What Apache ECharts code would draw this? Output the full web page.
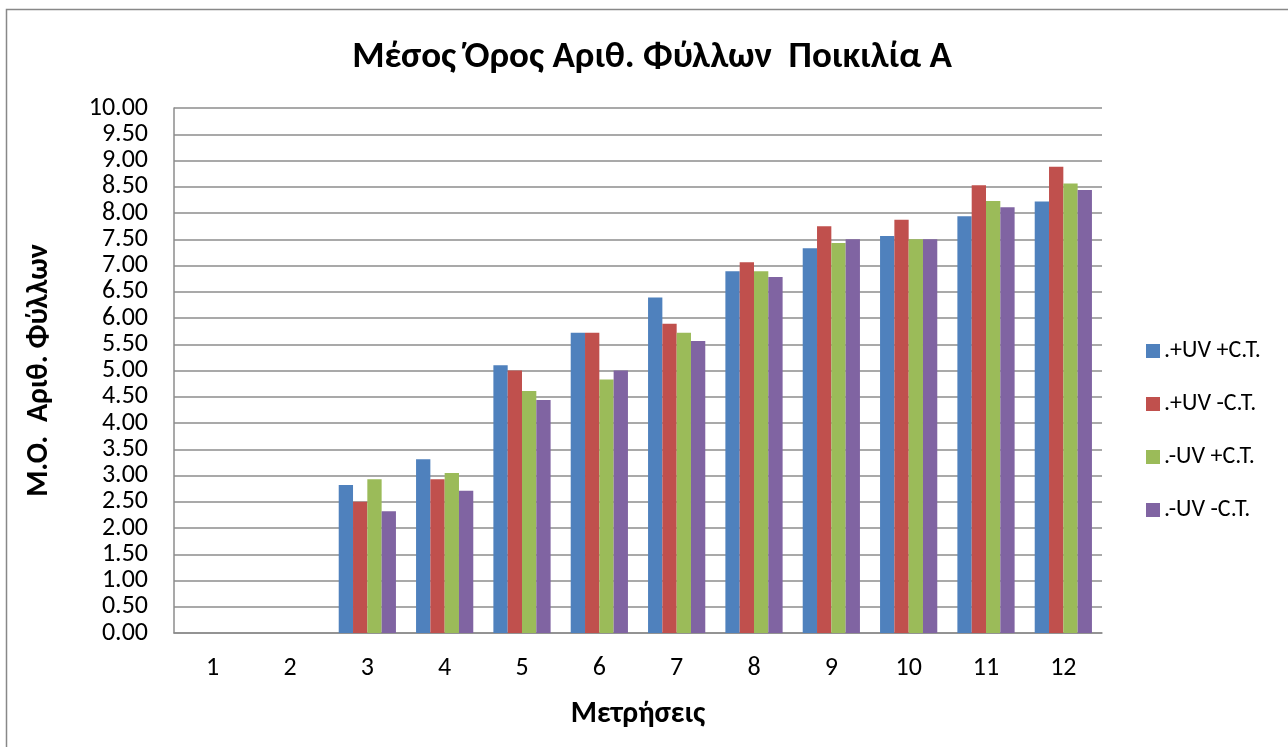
<!DOCTYPE html>
<html>
<head>
<meta charset="utf-8">
<script src="https://cdn.jsdelivr.net/npm/echarts@6/dist/echarts.min.js"></script>
<style>
  html, body { margin: 0; padding: 0; background: #fff; }
  #chart { width: 1288px; height: 747px; }
</style>
</head>
<body>
<div id="chart"></div>
<script>
// Measurement rounds (x axis)
const categories = ['1', '2', '3', '4', '5', '6', '7', '8', '9', '10', '11', '12'];

// Mean leaf count per treatment
const uvPlusCtPlus  = [0, 0, 2.82, 3.31, 5.10, 5.72, 6.39, 6.89, 7.33, 7.56, 7.94, 8.22];
const uvPlusCtMinus = [0, 0, 2.50, 2.93, 5.00, 5.72, 5.89, 7.06, 7.75, 7.87, 8.53, 8.88];
const uvMinusCtPlus = [0, 0, 2.93, 3.05, 4.61, 4.83, 5.72, 6.89, 7.43, 7.50, 8.23, 8.56];
const uvMinusCtMinus = [0, 0, 2.32, 2.71, 4.44, 5.00, 5.56, 6.78, 7.50, 7.50, 8.11, 8.44];

const seriesNames = ['.+UV +C.T.', '.+UV -C.T.', '.-UV +C.T.', '.-UV -C.T.'];
const seriesColors = ['#4f81bd', '#c0504d', '#9bbb59', '#8064a2'];
const seriesValues = [uvPlusCtPlus, uvPlusCtMinus, uvMinusCtPlus, uvMinusCtMinus];

const FONT = 'Carlito, "Open Sans", "Noto Sans", sans-serif';

const chart = echarts.init(document.getElementById('chart'), null, { renderer: 'canvas' });

chart.setOption({
  backgroundColor: '#ffffff',
  animation: false,
  graphic: [{
    type: 'rect',
    shape: { x: 6.5, y: 9.5, width: 1300, height: 760 },
    style: { fill: 'none', stroke: '#888888', lineWidth: 1.5 },
    silent: true,
    z: -1
  }],
  title: {
    text: 'Μέσος Όρος Αριθ. Φύλλων  Ποικιλία Α',
    left: 647,
    top: 34,
    textAlign: 'center',
    textStyle: { fontFamily: FONT, fontSize: 37, fontWeight: 'bold', color: '#000' }
  },
  legend: {
    orient: 'vertical',
    left: 1141,
    top: 334,
    itemWidth: 14,
    itemHeight: 14,
    itemGap: 29,
    icon: 'rect',
    textStyle: { fontFamily: FONT, fontSize: 24, color: '#000', padding: [0, 0, 0, -1] },
    data: seriesNames
  },
  grid: {
    left: 174,
    right: 186,
    top: 108,
    bottom: 114,
    containLabel: false
  },
  xAxis: {
    type: 'category',
    data: categories,
    name: 'Μετρήσεις',
    nameLocation: 'middle',
    nameGap: 66,
    nameTextStyle: { fontFamily: FONT, fontSize: 30, fontWeight: 'bold', color: '#000' },
    axisLine: { lineStyle: { color: '#8c8c8c', width: 1.5 } },
    axisTick: { show: false },
    axisLabel: { fontFamily: FONT, fontSize: 26, color: '#000', margin: 22 },
    splitLine: { show: false }
  },
  yAxis: {
    type: 'value',
    min: 0,
    max: 10,
    interval: 0.5,
    name: 'Μ.Ο.  Αριθ. Φύλλων',
    nameLocation: 'middle',
    nameRotate: 90,
    nameGap: 120,
    nameTextStyle: { fontFamily: FONT, fontSize: 30, fontWeight: 'bold', color: '#000' },
    axisLine: { show: true, lineStyle: { color: '#8c8c8c', width: 1.5 } },
    axisTick: { show: false },
    axisLabel: {
      fontFamily: FONT, fontSize: 26, color: '#000', margin: 26,
      formatter: v => v.toFixed(2)
    },
    splitLine: { lineStyle: { color: '#8c8c8c', width: 1.5 } }
  },
  series: seriesNames.map((name, i) => ({
    name,
    type: 'bar',
    data: seriesValues[i],
    barGap: '0%',
    barCategoryGap: '26%',
    itemStyle: { color: seriesColors[i] }
  }))
});
</script>
</body>
</html>
